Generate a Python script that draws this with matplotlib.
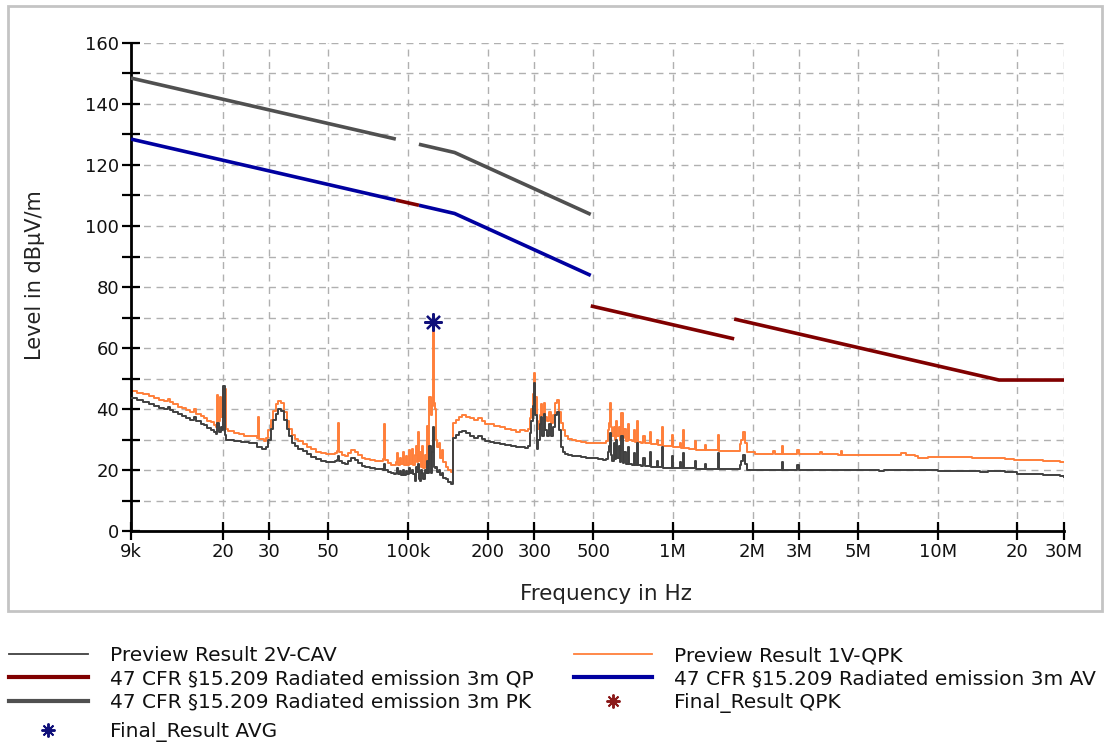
import numpy as np
import matplotlib
matplotlib.use("Agg")
import matplotlib.pyplot as plt
from matplotlib.patches import Rectangle
from matplotlib.lines import Line2D
from matplotlib.ticker import FixedLocator, MultipleLocator, NullLocator

plt.rcParams['font.family'] = ['DejaVu Sans']

# ---- preview scan 1V-QPK (frequency in kHz, level in dBuV/m) ----
qpk_f = [9.0, 9.5, 10.0, 10.5, 11.0, 11.5, 12.0, 12.4, 12.6, 13.0, 13.5, 14.0, 14.5, 15.0, 15.6,
         15.8, 16.5, 17.0, 17.5, 18.0, 18.5, 18.9, 19.0, 19.25, 19.5, 19.75, 20.1, 20.5, 21.0,
         22.0, 23.0, 24.0, 25.0, 26.0, 26.8, 27.1, 27.5, 28.5, 29.0, 29.7, 30.3, 31.0, 31.7,
         32.4, 33.2, 34.0, 34.8, 35.6, 36.5, 37.5, 38.5, 40.0, 41.5, 43.0, 45.0, 47.0, 49.0,
         51.0, 53.0, 54.0, 54.5, 55.0, 56.5, 58.0, 59.5, 61.0, 63.0, 65.0, 67.0, 69.0, 72.0,
         75.0, 78.0, 80.5, 81.0, 81.7, 84.0, 86.0, 88.5, 90.0, 91.0, 91.8, 93.0, 94.0, 95.5,
         96.5, 98.0, 99.5, 101.0, 102.0, 103.5, 104.5, 106.0, 107.0, 108.0, 109.0, 110.0,
         111.0, 112.0, 113.0, 114.0, 115.5, 116.5, 118.0, 119.0, 120.5, 122.0, 123.5, 124.3,
         125.0, 126.5, 128.0, 129.0, 130.5, 132.0, 134.0, 136.0, 139.0, 142.0, 145.0, 148.5,
         152.0, 156.0, 160.0, 166.0, 172.0, 178.0, 184.0, 190.0, 196.0, 204.0, 212.0, 222.0,
         232.0, 244.0, 256.0, 266.0, 276.0, 284.0, 288.0, 292.0, 296.0, 299.0, 303.0, 306.0,
         310.0, 314.0, 318.0, 322.0, 326.0, 330.0, 336.0, 342.0, 348.0, 354.0, 360.0, 366.0,
         372.0, 378.0, 384.0, 392.0, 402.0, 415.0, 430.0, 450.0, 470.0, 490.0, 520.0, 545.0,
         560.0, 568.0, 574.0, 578.0, 584.0, 590.0, 598.0, 604.0, 612.0, 618.0, 626.0, 632.0,
         640.0, 648.0, 656.0, 664.0, 676.0, 684.0, 700.0, 712.0, 720.0, 733.0, 742.0, 760.0,
         775.0, 782.0, 800.0, 820.0, 828.0, 850.0, 870.0, 878.0, 900.0, 910.0, 918.0, 950.0,
         990.0, 1000.0, 1040.0, 1060.0, 1075.0, 1094.0, 1104.0, 1150.0, 1180.0, 1214.0, 1228.0,
         1280.0, 1325.0, 1340.0, 1420.0, 1483.0, 1500.0, 1600.0, 1700.0, 1790.0, 1810.0,
         1840.0, 1870.0, 1900.0, 2048.0, 2300.0, 2400.0, 2430.0, 2587.0, 2610.0, 2800.0,
         2945.0, 2990.0, 3400.0, 3600.0, 3650.0, 4200.0, 4300.0, 4360.0, 5000.0, 6200.0,
         7000.0, 7300.0, 7600.0, 8200.0, 8400.0, 9200.0, 10500.0, 12000.0, 13500.0, 14500.0,
         16500.0, 18000.0, 19500.0, 22000.0, 25000.0, 27000.0, 29000.0, 30000.0]
qpk_v = [46.0, 45.4, 44.8, 44.2, 43.6, 43.0, 42.5, 43.2, 42.2, 41.5, 40.8, 40.2, 39.6, 39.0, 40.0,
         38.4, 37.6, 37.0, 36.2, 35.6, 34.8, 34.2, 44.5, 36.0, 44.0, 37.5, 46.5, 33.5, 32.8,
         32.2, 31.7, 31.3, 31.1, 31.0, 30.5, 37.5, 30.2, 29.6, 30.5, 33.0, 36.5, 39.5, 41.5,
         42.5, 42.0, 39.0, 36.0, 33.5, 31.5, 30.2, 29.4, 28.5, 27.6, 26.8, 26.0, 25.5, 25.2,
         25.3, 25.6, 26.2, 35.5, 26.0, 25.0, 24.6, 25.5, 26.5, 26.0, 25.0, 24.0, 23.6, 23.2,
         22.8, 23.0, 23.5, 35.0, 23.2, 22.2, 21.6, 21.5, 22.5, 25.5, 21.8, 24.0, 22.0, 26.0,
         21.5, 24.5, 21.8, 26.5, 22.0, 27.0, 21.5, 25.0, 28.0, 22.5, 32.5, 23.0,
         26.0, 21.0, 28.0, 20.5, 25.0, 21.0, 34.5, 22.0, 44.0, 38.0, 41.0, 68.0,
         42.0, 40.0, 30.0, 27.5, 29.0, 24.0, 26.5, 22.5, 21.0, 20.0, 19.3, 35.5,
         36.5, 37.5, 38.0, 37.5, 37.0, 36.5, 37.0, 36.0, 35.2, 35.0, 34.5, 34.0,
         33.6, 33.2, 32.6, 33.0, 32.8, 33.5, 37.0, 40.0, 45.0, 51.8, 44.0, 36.0,
         33.5, 38.0, 41.5, 38.0, 42.0, 37.5, 36.0, 39.0, 35.5, 38.0, 42.0, 43.0,
         39.0, 35.5, 33.0, 31.0, 30.2, 29.8, 29.5, 29.3, 29.0, 28.8, 28.8, 28.9,
         29.5, 33.0, 35.5, 42.0, 34.0, 31.0, 34.0, 30.0, 36.0, 31.0, 34.0, 30.0,
         38.7, 30.5, 33.5, 29.5, 35.0, 29.8, 29.5, 33.0, 29.3, 36.0, 29.2, 29.0,
         31.0, 28.8, 28.7, 32.5, 28.6, 28.5, 30.0, 28.3, 28.2, 34.0, 28.0, 27.8,
         31.5, 27.6, 27.4, 29.0, 27.3, 33.0, 27.2, 27.0, 26.8, 29.5, 26.7,
         26.6, 28.2, 26.5, 26.4, 31.5, 26.3, 26.2, 26.1, 28.5, 30.0,
         32.5, 29.0, 26.0, 25.3, 25.3, 26.2, 25.3, 28.0, 25.2, 25.2,
         26.5, 25.1, 25.1, 26.0, 25.1, 25.0, 26.2, 25.0, 25.0, 24.9,
         24.8, 25.5, 24.8, 24.6, 24.0, 24.3, 24.2, 24.2, 24.0, 23.8,
         23.9, 23.6, 23.3, 23.4, 23.1, 23.0, 22.5, 22.5]

# ---- preview scan 2V-CAV ----
cav_f = [9.0, 9.5, 10.0, 10.5, 11.0, 11.5, 12.0, 12.4, 12.6, 13.0, 13.5, 14.0, 14.5, 15.0, 15.6,
         15.8, 16.5, 17.0, 17.5, 18.0, 18.5, 18.9, 19.0, 19.3, 19.6, 19.9, 20.1, 20.4, 20.6,
         22.0, 23.5, 25.0, 26.2, 27.0, 28.0, 29.0, 29.7, 30.3, 31.0, 31.7, 32.4, 33.2, 34.0,
         34.8, 35.6, 36.5, 37.5, 38.5, 40.0, 41.5, 43.0, 45.0, 47.0, 49.0, 51.0, 53.0, 54.0,
         54.5, 55.0, 56.5, 58.0, 59.5, 61.0, 63.0, 65.0, 67.0, 69.0, 72.0, 75.0, 78.0, 80.5,
         81.0, 81.7, 84.0, 86.0, 88.5, 90.0, 91.0, 91.8, 93.0, 94.0, 95.5, 96.5, 98.0, 99.5,
         101.0, 102.0, 103.5, 104.5, 106.0, 107.0, 108.0, 109.0, 110.0, 111.0, 112.0, 113.0,
         114.0, 115.5, 116.5, 118.0, 119.0, 120.5, 122.0, 123.5, 124.3, 125.0, 126.5, 128.0,
         129.0, 130.5, 132.0, 134.0, 136.0, 139.0, 142.0, 145.0, 148.5, 152.0, 156.0, 160.0,
         166.0, 172.0, 178.0, 184.0, 190.0, 196.0, 204.0, 212.0, 222.0, 232.0, 244.0, 256.0,
         266.0, 276.0, 284.0, 288.0, 292.0, 296.0, 299.0, 303.0, 306.0, 310.0, 314.0, 318.0,
         322.0, 326.0, 330.0, 336.0, 342.0, 348.0, 354.0, 360.0, 366.0, 372.0, 378.0, 384.0,
         392.0, 402.0, 415.0, 430.0, 450.0, 470.0, 490.0, 520.0, 545.0, 560.0, 568.0, 574.0,
         578.0, 584.0, 590.0, 598.0, 604.0, 612.0, 618.0, 626.0, 632.0, 640.0, 648.0, 656.0,
         664.0, 676.0, 684.0, 700.0, 712.0, 720.0, 733.0, 742.0, 760.0, 775.0, 782.0, 800.0,
         820.0, 828.0, 850.0, 870.0, 878.0, 900.0, 910.0, 918.0, 950.0, 990.0, 1000.0, 1040.0,
         1060.0, 1075.0, 1094.0, 1104.0, 1150.0, 1214.0, 1228.0, 1280.0, 1325.0, 1340.0,
         1420.0, 1483.0, 1500.0, 1600.0, 1700.0, 1790.0, 1810.0, 1840.0, 1870.0, 1900.0,
         2048.0, 2587.0, 2610.0, 2945.0, 2990.0, 6000.0, 6300.0, 10000.0, 13500.0, 14500.0,
         15500.0, 18000.0, 20000.0, 25000.0, 29000.0, 30000.0]
cav_v = [43.5, 42.8, 42.2, 41.6, 41.0, 40.4, 40.0, 40.8, 39.8, 39.0, 38.3, 37.8, 37.2, 36.5, 37.5,
         36.0, 35.2, 34.6, 33.9, 33.2, 32.5, 31.8, 35.5, 32.5, 34.0, 33.0, 47.5, 31.5, 30.0,
         29.6, 29.2, 28.9, 28.7, 27.5, 27.0, 27.5, 30.0, 33.5, 36.5, 38.5, 40.0, 39.5, 36.5,
         33.5, 31.0, 29.0, 27.8, 27.0, 26.2, 25.2, 24.4, 23.6, 23.0, 22.6, 22.6, 23.0, 23.2,
         24.5, 23.0, 22.3, 21.9, 22.8, 24.0, 23.4, 22.2, 21.4, 21.0, 20.7, 20.4, 20.2, 20.0,
         22.0, 20.0, 19.4, 19.0, 18.8, 19.0, 20.5, 18.6, 19.8, 18.3, 20.0, 18.5, 19.8, 18.8,
         20.5, 19.0, 20.0, 18.8, 16.5, 21.0, 19.5, 22.0, 17.0, 16.5, 20.0, 19.0,
         17.0, 20.0, 19.0, 23.0, 19.0, 28.0, 19.0, 26.0, 34.0, 21.0, 20.5, 21.0,
         19.5, 20.0, 18.5, 19.0, 17.5, 17.0, 16.0, 15.3, 30.5, 31.5, 32.5, 32.8,
         32.0, 31.2, 30.6, 31.0, 30.2, 29.6, 29.2, 28.8, 28.5, 28.2, 28.0, 27.5,
         27.5, 27.2, 28.0, 32.0, 36.0, 41.0, 48.5, 38.0, 27.0, 30.0, 35.0, 37.5,
         31.0, 38.5, 33.0, 31.0, 35.0, 31.0, 34.0, 38.0, 39.0, 33.0, 27.5, 26.0,
         25.4, 25.0, 24.7, 24.5, 24.3, 24.0, 23.8, 23.5, 23.3, 23.5, 26.0, 28.0,
         32.0, 25.0, 23.0, 29.0, 23.5, 30.0, 24.0, 28.0, 22.5, 31.0, 22.3, 26.0,
         22.0, 27.5, 22.0, 21.8, 25.5, 21.6, 29.0, 21.5, 21.4, 24.0, 21.3, 21.2,
         26.0, 21.1, 21.0, 23.0, 21.0, 20.9, 27.5, 20.8, 20.8, 24.5, 20.7, 20.6,
         22.5, 20.6, 25.5, 20.5, 20.5, 23.0, 20.4, 20.4, 22.0, 20.3,
         20.3, 25.5, 20.3, 20.2, 20.2, 21.5, 23.0, 25.0, 22.0, 20.1,
         20.0, 22.5, 20.0, 21.5, 19.9, 19.7, 19.9, 19.8, 19.8, 19.3,
         19.6, 19.4, 18.6, 18.4, 18.0, 17.7]

# ---- 47 CFR 15.209 limit lines (kHz, dBuV/m) ----
pk_seg1_f, pk_seg1_v = [9.0, 90.0], [148.5, 128.5]
pk_seg2_f, pk_seg2_v = [110.0, 150.0, 490.0], [126.8, 124.1, 103.8]
av_seg1_f, av_seg1_v = [9.0, 90.0], [128.5, 108.5]
av_seg2_f, av_seg2_v = [110.0, 150.0, 490.0], [106.8, 104.1, 83.8]
qp_seg1_f, qp_seg1_v = [90.0, 110.0], [108.5, 106.8]
qp_seg2_f, qp_seg2_v = [490.0, 1705.0], [73.8, 63.0]
qp_seg3_f, qp_seg3_v = [1705.0, 17050.0, 30000.0], [69.5, 49.5, 49.5]

# ---- final measurement ----
final_avg_f, final_avg_v = [124.5], [68.5]
final_qpk_f, final_qpk_v = [], []

xtick_vals = [9e3, 2e4, 3e4, 5e4, 1e5, 2e5, 3e5, 5e5, 1e6, 2e6, 3e6, 5e6, 1e7, 2e7, 3e7]
xtick_labels = ["9k", "20", "30", "50", "100k", "200", "300", "500", "1M", "2M", "3M", "5M",
                "10M", "20", "30M"]

C_CAV = "#404040"
C_QPK = "#ff7f3a"
C_PK = "#505050"
C_AV = "#0000a0"
C_QP = "#800000"
C_FAVG = "#10107a"
C_FQPK = "#8b1a1a"


def hz(k):
    return np.asarray(k, dtype=float) * 1e3


W, H = 1104, 745
fig = plt.figure(figsize=(W / 100, H / 100), dpi=100)
fig.patch.set_facecolor("white")

# light frame around the plotting area
fig.add_artist(Rectangle((8 / W, 1 - 611 / H), (1102 - 8) / W, (611 - 6) / H,
                         transform=fig.transFigure, fill=False,
                         edgecolor="#c4c4c4", lw=2.0))

ax = fig.add_axes([131 / W, 1 - 531 / H, (1064 - 131) / W, (531 - 43) / H])
ax.set_xscale("log")
ax.set_xlim(9e3, 3e7)
ax.set_ylim(0, 160)

# measurement traces
ax.plot(hz(cav_f), cav_v, color=C_CAV, lw=1.4, zorder=3, drawstyle="steps-post")
ax.plot(hz(qpk_f), qpk_v, color=C_QPK, lw=1.4, zorder=2, drawstyle="steps-post")

# limit lines
lw_lim = 2.6
for f, v in [(pk_seg1_f, pk_seg1_v), (pk_seg2_f, pk_seg2_v)]:
    ax.plot(hz(f), v, color=C_PK, lw=lw_lim, zorder=4, solid_capstyle="butt")
for f, v in [(av_seg1_f, av_seg1_v), (av_seg2_f, av_seg2_v)]:
    ax.plot(hz(f), v, color=C_AV, lw=lw_lim, zorder=4, solid_capstyle="butt")
for f, v in [(qp_seg1_f, qp_seg1_v), (qp_seg2_f, qp_seg2_v), (qp_seg3_f, qp_seg3_v)]:
    ax.plot(hz(f), v, color=C_QP, lw=lw_lim, zorder=5, solid_capstyle="butt")

# final results
ast = (8, 2, 0)
ax.plot(hz(final_avg_f), final_avg_v, ls="none", marker=ast, ms=13, mew=1.6,
        color=C_FAVG, zorder=6)
ax.plot(hz(final_qpk_f), final_qpk_v, ls="none", marker=ast,
        ms=13, mew=1.6, color=C_FQPK, zorder=6)

# axes styling
for s in ("top", "right"):
    ax.spines[s].set_visible(False)
for s in ("left", "bottom"):
    ax.spines[s].set_linewidth(2.0)
    ax.spines[s].set_color("black")

ax.xaxis.set_major_locator(FixedLocator(xtick_vals))
ax.set_xticklabels(xtick_labels)
ax.xaxis.set_minor_locator(NullLocator())
ax.yaxis.set_major_locator(MultipleLocator(20))
ax.yaxis.set_minor_locator(MultipleLocator(10))
ax.tick_params(axis="both", which="both", direction="inout", length=13, width=1.6,
               color="black", labelsize=13, labelcolor="#111111")
ax.tick_params(axis="x", pad=2)
ax.tick_params(axis="y", pad=2)

ax.grid(True, which="both", axis="y", color="#b0b0b0", ls=(0, (5, 4)), lw=1.0, zorder=0)
ax.grid(True, which="major", axis="x", color="#b0b0b0", ls=(0, (5, 4)), lw=1.0, zorder=0)
ax.set_axisbelow(True)

fig.text(606 / W, 1 - 594 / H, "Frequency in Hz", ha="center", va="center", fontsize=15.5,
         color="#222222")
fig.text(35 / W, 1 - 275 / H, "Level in dBµV/m", ha="center", va="center", fontsize=15,
         rotation=90, color="#222222")

# legend: three rows in two columns, then the average final result on its own row
handles = [
    Line2D([], [], color=C_CAV, lw=1.3),
    Line2D([], [], color=C_QP, lw=3.0),
    Line2D([], [], color=C_PK, lw=3.0),
    Line2D([], [], color=C_QPK, lw=1.3),
    Line2D([], [], color=C_AV, lw=3.0),
    Line2D([], [], color=C_FQPK, ls="none", marker=ast, ms=10, mew=1.4),
]
labels = [
    "Preview Result 2V-CAV",
    "47 CFR §15.209 Radiated emission 3m QP",
    "47 CFR §15.209 Radiated emission 3m PK",
    "Preview Result 1V-QPK",
    "47 CFR §15.209 Radiated emission 3m AV",
    "Final_Result QPK",
]
leg_kw = dict(loc="upper left", frameon=False, fontsize=14.5, handlelength=3.9,
              handletextpad=1.1, columnspacing=2.0, labelspacing=0.22,
              borderaxespad=0, borderpad=0)
leg1 = fig.legend(handles, labels, ncol=2, bbox_to_anchor=(9 / W, 1 - 646 / H), **leg_kw)
leg2 = fig.legend([Line2D([], [], color=C_FAVG, ls="none", marker=ast, ms=10, mew=1.4)],
                  ["Final_Result AVG"], ncol=1, bbox_to_anchor=(9 / W, 1 - 722 / H), **leg_kw)
for lg in (leg1, leg2):
    for t in lg.get_texts():
        t.set_color("#111111")

fig.savefig("out.png", dpi=100, facecolor="white")
